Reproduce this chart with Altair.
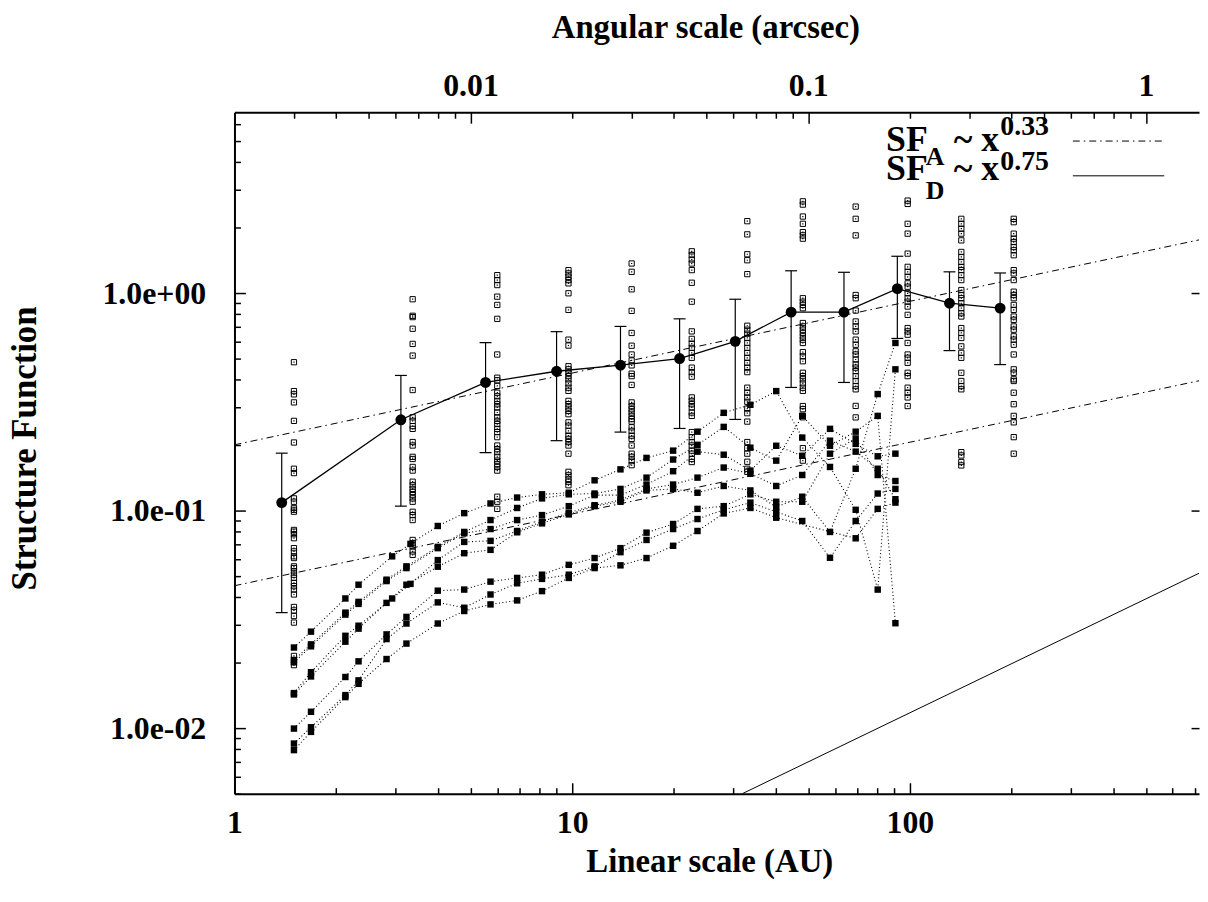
import altair as alt
import pandas as pd

FONT = "Liberation Serif"

# ---------------- data ----------------
# mean structure function (filled circles) and spread (error bars)
mean_lag = [1.38, 3.11, 5.54, 8.99, 13.9, 20.8, 30.4, 44.5, 63.8, 91.8, 131, 185]
mean_sf = [0.109, 0.262, 0.389, 0.438, 0.467, 0.501, 0.601, 0.819, 0.819, 1.05, 0.90, 0.855]
mean_err = [0.075, 0.157, 0.204, 0.228, 0.237, 0.262, 0.338, 0.45, 0.43, 0.43, 0.355, 0.385]

# individual structure-function values (open squares), one column per lag
col_lag = [1.50, 3.37, 6.00, 9.75, 15.0, 22.6, 33.0, 48.2, 69.1, 98.5, 142, 203]
col_01 = [0.482, 0.355, 0.343, 0.315, 0.259, 0.206, 0.156, 0.149, 0.114, 0.110, 0.103, 0.101, 0.099,
          0.0816, 0.0802, 0.078, 0.0748, 0.0673, 0.065, 0.0617, 0.0606, 0.0555, 0.0545, 0.0527,
          0.0508, 0.0491, 0.0466, 0.045, 0.0434, 0.0412, 0.0361, 0.0348, 0.0328, 0.0306, 0.0215, 0.0195]
col_02 = [0.939, 0.788, 0.777, 0.687, 0.585, 0.517, 0.359, 0.269, 0.259, 0.245, 0.238, 0.207, 0.1995,
          0.177, 0.173, 0.159, 0.153, 0.136, 0.131, 0.126, 0.122, 0.118, 0.114, 0.110, 0.0989,
          0.0955, 0.0906, 0.0734, 0.0709, 0.0685, 0.065, 0.0627]
col_03 = [1.212, 1.150, 1.091, 0.965, 0.884, 0.763, 0.523, 0.409, 0.398, 0.375, 0.349, 0.336, 0.320,
          0.309, 0.2985, 0.283, 0.269, 0.259, 0.2505, 0.238, 0.230, 0.218, 0.1995, 0.192, 0.186,
          0.177, 0.170, 0.164, 0.159, 0.153, 0.116, 0.110, 0.102]
col_04 = [1.278, 1.234, 1.191, 1.150, 1.111, 1.0, 0.839, 0.612, 0.575, 0.462, 0.447, 0.431, 0.416,
          0.402, 0.385, 0.368, 0.356, 0.320, 0.309, 0.2985, 0.288, 0.278, 0.255, 0.246, 0.233,
          0.2215, 0.214, 0.207, 0.1995, 0.183, 0.151, 0.1455, 0.140, 0.136, 0.131]
col_05 = [1.371, 1.255, 1.043, 0.830, 0.657, 0.574, 0.523, 0.491, 0.466, 0.427, 0.416, 0.379, 0.315,
          0.303, 0.293, 0.283, 0.273, 0.264, 0.257, 0.242, 0.233, 0.2215, 0.214, 0.1995, 0.183,
          0.177, 0.170, 0.162]
col_06 = [1.56, 1.50, 1.43, 1.37, 1.278, 1.118, 0.915, 0.668, 0.617, 0.587, 0.561, 0.532, 0.505,
          0.455, 0.434, 0.4135, 0.332, 0.320, 0.309, 0.2985, 0.283, 0.273, 0.230, 0.218, 0.207,
          0.1995, 0.189, 0.183, 0.173, 0.1675]
col_07 = [2.146, 1.866, 1.512, 1.419, 1.225, 0.709, 0.680, 0.652, 0.623, 0.591, 0.561, 0.532, 0.505,
          0.479, 0.455, 0.434, 0.368, 0.349, 0.332, 0.317, 0.295, 0.281, 0.257, 0.207, 0.194,
          0.183, 0.168, 0.156, 0.151]
col_08 = [2.648, 2.557, 2.254, 2.087, 1.911, 1.846, 1.783, 0.949, 0.915, 0.884, 0.854, 0.730, 0.704,
          0.680, 0.657, 0.634, 0.612, 0.591, 0.536, 0.513, 0.487, 0.431, 0.416, 0.402, 0.385,
          0.368, 0.356, 0.303, 0.293, 0.273, 0.269, 0.194, 0.170]
col_09 = [2.504, 2.200, 1.846, 0.982, 0.949, 0.833, 0.742, 0.704, 0.668, 0.612, 0.58, 0.541, 0.523,
          0.496, 0.471, 0.455, 0.4385, 0.416, 0.395, 0.3745, 0.3617, 0.3034, 0.2687]
col_10 = [2.668, 2.576, 2.087, 1.880, 1.522, 1.323, 1.255, 1.191, 1.111, 1.072, 1.0, 0.949, 0.915,
          0.869, 0.796, 0.692, 0.668, 0.645, 0.591, 0.523, 0.505, 0.479, 0.431, 0.416, 0.368,
          0.349, 0.332, 0.303]
col_11 = [2.200, 2.087, 1.981, 1.880, 1.751, 1.549, 1.469, 1.394, 1.323, 1.278, 1.212, 1.150, 1.035,
          0.982, 0.949, 0.900, 0.854, 0.810, 0.782, 0.692, 0.657, 0.623, 0.570, 0.532, 0.505,
          0.431, 0.395, 0.3745, 0.3617, 0.186, 0.1795, 0.1675, 0.1616]
col_12 = [2.200, 2.123, 1.880, 1.783, 1.720, 1.632, 1.577, 1.496, 1.278, 1.234, 1.150, 1.017, 0.982,
          0.949, 0.884, 0.839, 0.782, 0.755, 0.704, 0.680, 0.634, 0.612, 0.580, 0.523, 0.447,
          0.431, 0.402, 0.395, 0.349, 0.309, 0.273, 0.255, 0.218, 0.183]
columns = [col_01, col_02, col_03, col_04, col_05, col_06, col_07, col_08, col_09, col_10, col_11, col_12]

# structure functions of sub-regions (filled squares joined by dotted lines)
lag_a = [1.50, 1.685, 2.13, 2.33, 2.82, 3.23, 4.00, 4.79, 5.73, 6.87, 8.14, 9.77, 11.65, 13.9,
         16.6, 19.9, 23.5, 28.1, 33.7, 40.2, 48.0, 58.0, 69.1, 80.3, 90.6]
lag_b = [1.50, 1.685, 2.13, 2.33, 2.93, 3.32, 4.00, 4.79, 5.73, 6.87, 8.14, 9.77, 11.65, 13.9,
         16.6, 19.9, 23.5, 28.1, 33.7, 40.2, 48.0, 58.0, 69.1, 80.3, 90.6]
sub_1 = [0.0235, 0.0278, 0.0395, 0.0457, 0.0617, 0.0704, 0.0851, 0.0975, 0.108, 0.115, 0.119, 0.121,
         0.138, 0.155, 0.175, 0.189, 0.231, 0.282, 0.307, 0.355, 0.217, 0.159, 0.101, 0.0434, 0.447]
sub_2 = [0.0206, 0.0243, 0.0340, 0.0381, 0.0482, 0.0555, 0.0682, 0.0799, 0.0906, 0.103, 0.114, 0.119,
         0.120, 0.126, 0.142, 0.172, 0.201, 0.243, 0.195, 0.170, 0.273, 0.199, 0.231, 0.273, 0.0304]
sub_3 = [0.0201, 0.0238, 0.0333, 0.0373, 0.0475, 0.0545, 0.0673, 0.0788, 0.0824, 0.0906, 0.0955, 0.105,
         0.118, 0.118, 0.132, 0.152, 0.187, 0.181, 0.153, 0.199, 0.179, 0.238, 0.203, 0.178, 0.183]
sub_4 = [0.0145, 0.0181, 0.0266, 0.0296, 0.0395, 0.0461, 0.0593, 0.0719, 0.0727, 0.0807, 0.0891, 0.0979,
         0.106, 0.112, 0.126, 0.132, 0.142, 0.158, 0.148, 0.130, 0.146, 0.210, 0.187, 0.156, 0.113]
sub_5 = [0.0143, 0.0173, 0.0250, 0.0287, 0.0377, 0.0457, 0.0553, 0.0638, 0.0661, 0.0796, 0.0875, 0.0962,
         0.105, 0.110, 0.124, 0.126, 0.121, 0.130, 0.124, 0.104, 0.116, 0.0799, 0.156, 0.344, 0.591]
sub_6 = [0.00996, 0.0119, 0.0172, 0.0203, 0.0270, 0.0325, 0.0429, 0.0434, 0.0472, 0.0491, 0.0508, 0.0564,
         0.0606, 0.0673, 0.0793, 0.0869, 0.102, 0.105, 0.119, 0.110, 0.110, 0.183, 0.215, 0.146, 0.137]
sub_7 = [0.00850, 0.0101, 0.0142, 0.0166, 0.0257, 0.0303, 0.0379, 0.0358, 0.0412, 0.0464, 0.0486, 0.0508,
         0.0555, 0.0645, 0.0734, 0.0824, 0.0916, 0.101, 0.109, 0.0989, 0.0897, 0.0608, 0.0897, 0.120, 0.126]
sub_8 = [0.00793, 0.00962, 0.0139, 0.0160, 0.0208, 0.0245, 0.0303, 0.0346, 0.0371, 0.0387, 0.0427, 0.0491,
         0.0545, 0.0561, 0.0606, 0.0690, 0.0807, 0.0972, 0.103, 0.0929, None, None, 0.0747, 0.102, 0.109]
subs = [(sub_1, lag_b), (sub_2, lag_a), (sub_3, lag_a), (sub_4, lag_b),
        (sub_5, lag_a), (sub_6, lag_a), (sub_7, lag_a), (sub_8, lag_a)]

# power-law guide lines (end points read at the frame edges)
plA_hi_lag, plA_hi_sf = [1.0, 718.0], [0.201, 1.76]
plA_lo_lag, plA_lo_sf = [1.0, 718.0], [0.0452, 0.396]
plD_lag, plD_sf = [31.9, 718.0], [0.005, 0.0516]

# axis tick values
x_major = [1, 10, 100]
x_minor = [2, 3, 4, 5, 6, 7, 8, 9, 20, 30, 40, 50, 60, 70, 80, 90, 200, 300, 400, 500, 600, 700]
top_major = [5, 50, 500]          # 0.01", 0.1", 1" at 500 pc
top_minor = [1.5, 2, 2.5, 3, 3.5, 4, 4.5, 10, 15, 20, 25, 30, 35, 40, 45,
             100, 150, 200, 250, 300, 350, 400, 450]
y_major = [0.01, 0.1, 1]
y_minor = [0.005, 0.006, 0.007, 0.008, 0.009, 0.02, 0.03, 0.04, 0.05, 0.06, 0.07, 0.08, 0.09,
           0.2, 0.3, 0.4, 0.5, 0.6, 0.7, 0.8, 0.9, 2, 3, 4, 5, 6]

# ---------------- tables ----------------
open_df = pd.DataFrame(
    [{"lag": col_lag[i], "sf": v} for i, col in enumerate(columns) for v in col]
)
sub_df = pd.DataFrame(
    [{"series": f"s{k + 1}", "lag": lg, "sf": v}
     for k, (vals, lags) in enumerate(subs) for lg, v in zip(lags, vals) if v is not None]
)
mean_df = pd.DataFrame({"lag": mean_lag, "sf": mean_sf, "err": mean_err})
mean_df["lo"] = mean_df["sf"] - mean_df["err"]
mean_df["hi"] = mean_df["sf"] + mean_df["err"]
pl_df = pd.DataFrame({
    "line": ["A1", "A1", "A2", "A2", "D", "D"],
    "lag": plA_hi_lag + plA_lo_lag + plD_lag,
    "sf": plA_hi_sf + plA_lo_sf + plD_sf,
})

xs = alt.Scale(type="log", domain=[1, 718], nice=False)
ys = alt.Scale(type="log", domain=[0.005, 6.8], nice=False)
X = lambda f="lag": alt.X(f"{f}:Q", scale=xs, axis=None)
Y = lambda f="sf": alt.Y(f"{f}:Q", scale=ys, axis=None)

base_open = alt.Chart(open_df)
open_sq = base_open.mark_square(filled=False, size=28, stroke="black", strokeWidth=1, opacity=1).encode(x=X(), y=Y())
open_dot = base_open.mark_square(filled=True, size=1.5, color="black", opacity=1).encode(x=X(), y=Y())

sub_lines = alt.Chart(sub_df).mark_line(color="black", strokeWidth=1.1, strokeDash=[1, 2.5]).encode(
    x=X(), y=Y(), detail="series:N", order="lag:Q")
sub_pts = alt.Chart(sub_df).mark_square(filled=True, size=42, color="black", opacity=1).encode(x=X(), y=Y())

err_rule = alt.Chart(mean_df).mark_rule(color="black", strokeWidth=1.2).encode(
    x=X(), y=Y("lo"), y2="hi:Q")
cap_lo = alt.Chart(mean_df).mark_tick(color="black", orient="horizontal", size=12, thickness=1.2, opacity=1).encode(x=X(), y=Y("lo"))
cap_hi = alt.Chart(mean_df).mark_tick(color="black", orient="horizontal", size=12, thickness=1.2, opacity=1).encode(x=X(), y=Y("hi"))
mean_line = alt.Chart(mean_df).mark_line(color="black", strokeWidth=1.3).encode(x=X(), y=Y())
mean_pts = alt.Chart(mean_df).mark_circle(color="black", size=120, opacity=1).encode(x=X(), y=Y())

plA = alt.Chart(pl_df).transform_filter("datum.line != 'D'").mark_line(
    color="black", strokeWidth=1, strokeDash=[7, 4, 1.5, 4], clip=True).encode(x=X(), y=Y(), detail="line:N")
plD = alt.Chart(pl_df).transform_filter("datum.line == 'D'").mark_line(
    color="black", strokeWidth=1, clip=True).encode(x=X(), y=Y())

# ---------------- key (legend) ----------------
one = pd.DataFrame({"k": [0]})
def txt(s, x, y, size):
    return alt.Chart(one).mark_text(font=FONT, fontWeight="bold", fontSize=size, align="left",
                                    baseline="alphabetic", color="black").encode(
        x=alt.value(x), y=alt.value(y), text=alt.value(s))

key = [
    txt("SF", 656, 39, 36), txt("A", 696, 53, 26), txt("~ x", 724, 39, 36), txt("0.33", 771, 23, 28),
    txt("SF", 656, 68, 36), txt("D", 696, 87, 26), txt("~ x", 724, 68, 36), txt("0.75", 771, 58, 28),
    alt.Chart(one).mark_rule(color="black", strokeWidth=1, strokeDash=[7, 4, 1.5, 4]).encode(
        x=alt.value(844), x2=alt.value(936), y=alt.value(29)),
    alt.Chart(one).mark_rule(color="black", strokeWidth=1).encode(
        x=alt.value(844), x2=alt.value(936), y=alt.value(64)),
]

# ---------------- axes (inward ticks via separate axis layers) ----------------
anchor = pd.DataFrame({"lag": [10.0], "sf": [0.1]})
def axis_layer(xaxis, yaxis):
    return alt.Chart(anchor).mark_point(opacity=0, size=1).encode(
        x=alt.X("lag:Q", scale=xs, axis=xaxis),
        y=alt.Y("sf:Q", scale=ys, axis=yaxis),
    )

lab = dict(labelFont=FONT, labelFontWeight="bold", labelColor="black", labelFlush=False,
           labelOverlap=False, grid=False, ticks=False, tickSize=0,
           domain=True, domainColor="black", domainWidth=2,
           titleFont=FONT, titleFontWeight="bold", titleColor="black")
tick = dict(labels=False, domain=False, grid=False, ticks=True, tickColor="black", tickWidth=1.5, title=None)

ax_bottom = alt.Axis(orient="bottom", values=x_major, labelExpr="format(datum.value, 'd')",
                     labelFontSize=32, labelPadding=39, labelBaseline="alphabetic",
                     title="Linear scale (AU)", titleFontSize=33, titleX=478, titleY=78,
                     titleAlign="center", titleBaseline="alphabetic", titleAngle=0, **lab)
ax_left = alt.Axis(orient="left", values=y_major,
                   labelExpr="datum.value >= 1 ? '1.0e+00' : datum.value >= 0.1 ? '1.0e-01' : '1.0e-02'",
                   labelFontSize=32, labelPadding=29, labelAlign="right", labelBaseline="middle",
                   title="Structure Function", titleFontSize=35, titleX=-200, titleY=338,
                   titleAngle=270, titleAlign="center", titleBaseline="alphabetic", **lab)
ax_top = alt.Axis(orient="top", values=top_major,
                  labelExpr="datum.value < 10 ? '0.01' : datum.value < 100 ? '0.1' : '1'",
                  labelFontSize=32, labelPadding=17, labelBaseline="alphabetic",
                  title="Angular scale (arcsec)", titleFontSize=33, titleX=474, titleY=-75,
                  titleAlign="center", titleBaseline="alphabetic", titleAngle=0, **lab)

axes = [
    axis_layer(ax_bottom, ax_left),
    axis_layer(alt.Axis(orient="bottom", values=x_major, tickSize=11, offset=-11, **tick),
               alt.Axis(orient="left", values=y_major, tickSize=11, offset=-11, **tick)),
    axis_layer(alt.Axis(orient="bottom", values=x_minor, tickSize=6, offset=-6, **tick),
               alt.Axis(orient="left", values=y_minor, tickSize=6, offset=-6, **tick)),
    axis_layer(ax_top,
               alt.Axis(orient="right", values=y_major, tickSize=8, offset=-8, **tick)),
    axis_layer(alt.Axis(orient="top", values=top_major, tickSize=11, offset=-11, **tick), None),
    axis_layer(alt.Axis(orient="top", values=top_minor, tickSize=6, offset=-6, **tick), None),
]

chart = alt.layer(
    *axes,
    plA, plD,
    sub_lines, sub_pts,
    open_sq, open_dot,
    err_rule, cap_lo, cap_hi, mean_line, mean_pts,
    *key,
).resolve_axis(x="independent", y="independent").properties(
    width=971, height=686,
    autosize=alt.AutoSizeParams(type="none"),
    padding={"left": 228, "top": 102, "right": 1, "bottom": 90},
    background="white",
).configure_view(stroke=None)

chart.save("out.html", embed_options={"renderer": "svg", "actions": False})
